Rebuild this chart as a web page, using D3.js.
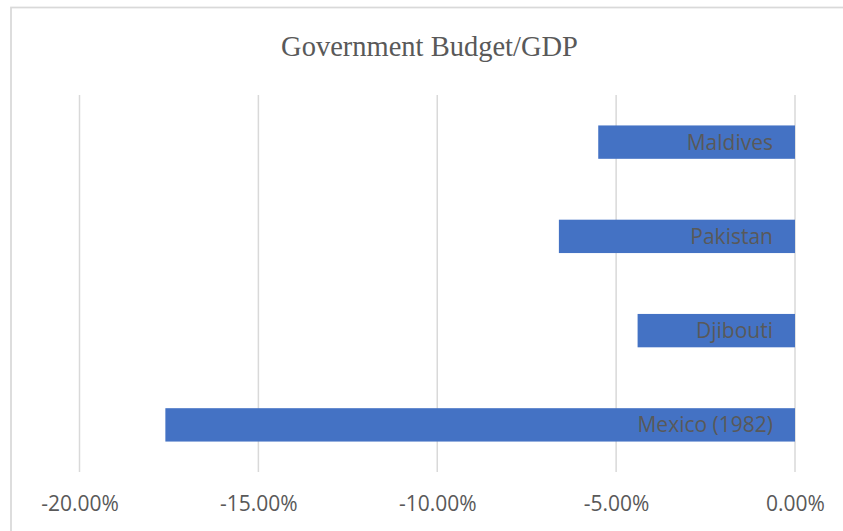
<!DOCTYPE html>
<html>
<head>
<meta charset="utf-8">
<script src="https://cdn.jsdelivr.net/npm/d3@7"></script>
<style>
  html, body { margin: 0; padding: 0; background: #fff; }
  svg { display: block; }
</style>
</head>
<body>
<svg id="chart" width="843" height="531"></svg>
<script>
const title = "Government Budget/GDP";
const categories = ["Maldives", "Pakistan", "Djibouti", "Mexico (1982)"];
const values = [-0.055, -0.066, -0.044, -0.176];
const tickValues = [-0.20, -0.15, -0.10, -0.05, 0];

const svg = d3.select("#chart");
const W = 843, H = 531;
const plot = { left: 79.5, right: 795, top: 95, bottom: 472 };

svg.append("rect").attr("width", W).attr("height", H).attr("fill", "#fff");
// chart border
svg.append("rect")
  .attr("x", 11).attr("y", 7.5)
  .attr("width", W + 20).attr("height", H + 20)
  .attr("fill", "none").attr("stroke", "#d9d9d9").attr("stroke-width", 1.75);

const x = d3.scaleLinear().domain([-0.20, 0]).range([plot.left, plot.right]);
const y = d3.scaleBand().domain(categories).range([plot.top, plot.bottom])
  .paddingInner(0.646).paddingOuter(0.323);

// gridlines
svg.append("g").selectAll("line").data(tickValues).join("line")
  .attr("x1", d => x(d)).attr("x2", d => x(d))
  .attr("y1", plot.top).attr("y2", plot.bottom)
  .attr("stroke", "#d9d9d9").attr("stroke-width", 1.5);

// bars
svg.append("g").selectAll("rect").data(categories).join("rect")
  .attr("x", (d, i) => x(values[i]))
  .attr("y", d => y(d))
  .attr("width", (d, i) => x(0) - x(values[i]))
  .attr("height", y.bandwidth())
  .attr("fill", "#4472c4");

// bar labels
svg.append("g").selectAll("text").data(categories).join("text")
  .attr("x", x(0) - 22)
  .attr("y", d => y(d) + y.bandwidth() / 2 + 7.5)
  .attr("text-anchor", "end")
  .attr("font-family", "'Open Sans', sans-serif")
  .attr("font-size", 21)
  .attr("fill", "#595959")
  .text(d => d);

// x axis labels
const pct = d3.format(".2%");
const axis = d3.axisBottom(x).tickValues(tickValues)
  .tickFormat(d => pct(d).replace("\u2212", "-")).tickSize(0).tickPadding(0);
const ax = svg.append("g").attr("transform", `translate(0,${plot.bottom})`).call(axis);
ax.select(".domain").remove();
ax.selectAll("text")
  .attr("y", 38.7).attr("dy", null)
  .attr("font-family", "'Open Sans', sans-serif")
  .attr("font-size", 21)
  .attr("fill", "#595959");

// title
svg.append("text")
  .attr("x", 429.5).attr("y", 56)
  .attr("text-anchor", "middle")
  .attr("font-family", "'Liberation Serif', 'Times New Roman', serif")
  .attr("font-size", 28.5)
  .attr("fill", "#595959")
  .text(title);
</script>
</body>
</html>
